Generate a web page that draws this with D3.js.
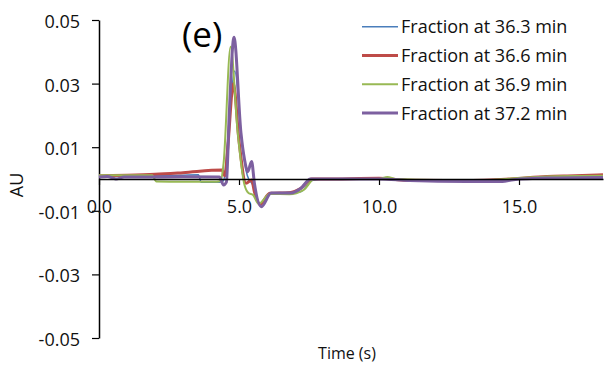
<!DOCTYPE html>
<html>
<head>
<meta charset="utf-8">
<script src="https://cdn.jsdelivr.net/npm/d3@7"></script>
<style>
  html, body { margin: 0; padding: 0; background: #fff; }
  svg { display: block; font-family: "Open Sans", "Noto Sans", sans-serif; }
</style>
</head>
<body>
<svg id="chart" width="613" height="367"></svg>
<script>
// ---- Data ----
const seriesNames = ["Fraction at 36.3 min", "Fraction at 36.6 min", "Fraction at 36.9 min", "Fraction at 37.2 min"];
const seriesColors = ["#4A7EBB", "#BE4B48", "#98B954", "#7D60A0"];
const seriesWidths = [1.5, 3, 2, 3];

const blueT = [0, 0.5, 1, 2, 3, 3.55, 3.65, 4.3, 4.45, 4.6, 4.85, 5.1, 5.3, 5.5, 5.75, 6.1, 6.8, 7.2, 7.6, 8, 10, 11, 13, 14.6, 16, 18];
const blueV = [0.001, 0.0008, 0.0008, 0.001, 0.0012, 0.0013, -0.001, -0.001, -0.0005, 0.012, 0.034, 0.012, 0.001, -0.002, -0.008, -0.0045, -0.0042, -0.004, -0.0005, 0, 0.0002, -0.0005, -0.0006, 0, 0.0008, 0.001];

const redT = [0, 1, 2, 3, 4.4, 4.5, 4.6, 4.8, 5.0, 5.25, 5.45, 5.55, 5.75, 6.1, 6.8, 7.2, 7.6, 8, 10, 11, 13, 14.7, 16, 17, 18];
const redV = [0.001, 0.0012, 0.0015, 0.002, 0.0028, 0.001, 0.01, 0.030, 0.012, -0.0013, -0.0003, -0.004, -0.008, -0.0045, -0.0043, -0.003, 0, 0, 0.0002, -0.0004, -0.0005, 0, 0.0008, 0.001, 0.0013];

const greenT = [0, 1, 1.9, 2.05, 3, 4.2, 4.35, 4.45, 4.7, 4.95, 5.2, 5.35, 5.5, 5.7, 6.1, 6.8, 7.3, 7.7, 8.2, 10, 10.3, 10.6, 12, 14, 15, 16, 18];
const greenV = [0.0012, 0.0012, 0.0012, -0.0008, -0.0009, -0.0009, -0.0005, 0.005, 0.0416, 0.015, -0.002, -0.0045, -0.005, -0.0078, -0.0047, -0.0048, -0.0035, 0, 0, 0, 0.0006, 0, -0.0003, -0.0003, 0.0003, 0.0008, 0.001];

const purpleT = [0, 0.3, 0.6, 0.9, 1.5, 3, 4.3, 4.45, 4.55, 4.65, 4.82, 5.07, 5.2, 5.31, 5.45, 5.55, 5.8, 6.15, 6.85, 7.2, 7.55, 8, 10, 11.1, 13.1, 14.4, 14.8, 16, 18];
const purpleV = [0.0006, 0.0008, 0.0, 0.0006, 0.0006, 0.0007, 0.0006, -0.0019, -0.001, 0.02, 0.0446, 0.0145, 0.006, 0.0023, 0.0055, -0.0013, -0.0087, -0.0044, -0.0044, -0.003, 0, 0, 0, -0.0005, -0.0008, -0.0008, -0.0002, 0.0003, 0.0005];

const yTicks = [-0.05, -0.03, -0.01, 0.01, 0.03, 0.05];
const xTicks = [0, 5, 10, 15];
const xDomain = [0, 18];
const yDomain = [-0.05, 0.05];
const titleText = "(e)";
const xLabel = "Time (s)";
const yLabel = "AU";

// ---- Build ----
const allT = [blueT, redT, greenT, purpleT];
const allV = [blueV, redV, greenV, purpleV];
const series = seriesNames.map((name, i) => ({
  name, color: seriesColors[i], width: seriesWidths[i],
  points: allT[i].map((t, j) => ({ t, v: allV[i][j] }))
}));

const svg = d3.select("#chart");
const x = d3.scaleLinear().domain(xDomain).range([99, 603]);
const y = d3.scaleLinear().domain(yDomain).range([338, 20]);
const fmtY = d => d3.format(".2f")(d).replace("\u2212", "-");
const fmtX = d => d3.format(".1f")(d).replace("\u2212", "-");

// Y axis
const yAxis = svg.append("g")
  .attr("transform", `translate(${x(0)},0)`)
  .call(d3.axisLeft(y).tickValues(yTicks).tickFormat(fmtY).tickSize(7).tickSizeOuter(0).tickPadding(12));
yAxis.select(".domain").attr("stroke", "#000").attr("stroke-width", 1.5);
yAxis.selectAll(".tick line").attr("stroke", "#000").attr("stroke-width", 1.2);
yAxis.selectAll(".tick text").attr("font-size", 18).attr("fill", "#111").attr("dy", "0.42em")
  .style("font-family", '"Open Sans", sans-serif');

// Lines
const line = d3.line().x(d => x(d.t)).y(d => y(d.v)).curve(d3.curveMonotoneX);
svg.append("g").selectAll("path").data(series).join("path")
  .attr("d", d => line(d.points))
  .attr("fill", "none")
  .attr("stroke", d => d.color)
  .attr("stroke-width", d => d.width)
  .attr("stroke-linejoin", "round");

// X axis at y = 0
const xAxis = svg.append("g")
  .attr("transform", `translate(0,${y(0)})`)
  .call(d3.axisBottom(x).tickValues(xTicks).tickFormat(fmtX).tickSize(6).tickSizeOuter(0).tickPadding(15));
xAxis.select(".domain").attr("stroke", "#000").attr("stroke-width", 1.5);
xAxis.selectAll(".tick line").attr("stroke", "#000").attr("stroke-width", 1.2);
xAxis.selectAll(".tick text").attr("font-size", 18).attr("fill", "#111")
  .style("font-family", '"Open Sans", sans-serif');

// Title
svg.append("text").attr("x", 182).attr("y", 47)
  .attr("font-size", 35).attr("fill", "#000").text(titleText);

// Axis titles
svg.append("text").attr("x", 347).attr("y", 359).attr("text-anchor", "middle")
  .attr("font-size", 16).attr("fill", "#111").text(xLabel);
svg.append("text").attr("transform", "translate(23,185) rotate(-90)").attr("text-anchor", "middle")
  .attr("font-size", 18).attr("fill", "#111").text(yLabel);

// Legend
const leg = svg.append("g").selectAll("g").data(series).join("g")
  .attr("transform", (d, i) => `translate(362,${26.7 + i * 28.8})`);
leg.append("line").attr("x1", 0).attr("x2", 36).attr("y1", 0).attr("y2", 0)
  .attr("stroke", d => d.color).attr("stroke-width", d => d.width);
leg.append("text").attr("x", 39).attr("y", 0).attr("dy", "0.36em")
  .attr("font-size", 18).attr("fill", "#111").text(d => d.name);
</script>
</body>
</html>
